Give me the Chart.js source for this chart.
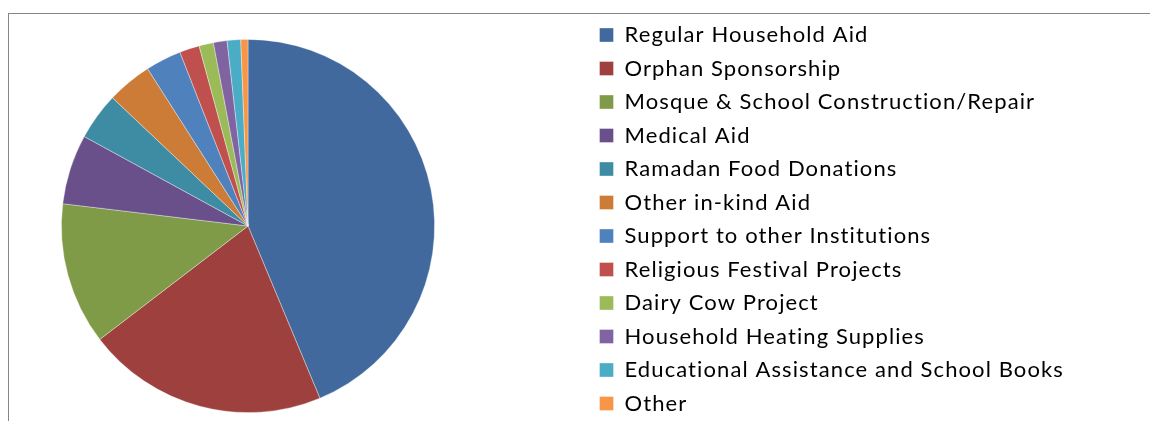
<!DOCTYPE html>
<html lang="en">
<head>
    <meta charset="UTF-8">
    <title>Distribuicao de ajuda</title>
    <script src="https://cdn.jsdelivr.net/npm/chart.js"></script>
    <style>
        body { margin: 0; background: #fff; }
        .wrap { position: relative; width: 1150px; height: 421px; overflow: hidden; }
        .wrap canvas { position: absolute; left: 0; top: 0; }
        .frame {
            position: absolute; left: 8px; top: 13px; width: 1300px; height: 600px;
            border-left: 1px solid #868686; border-top: 1px solid #868686;
            pointer-events: none;
        }
    </style>
</head>
<body>
    <div class="wrap">
        <canvas id="grafico" width="1150" height="421"></canvas>
        <div class="frame"></div>
    </div>

<script>
    // categorias e valores (%)
    var categorias = [
        'Regular Household Aid',
        'Orphan Sponsorship',
        'Mosque & School Construction/Repair',
        'Medical Aid',
        'Ramadan Food Donations',
        'Other in-kind Aid',
        'Support to other Institutions',
        'Religious Festival Projects',
        'Dairy Cow Project',
        'Household Heating Supplies',
        'Educational Assistance and School Books',
        'Other'
    ];
    var valores = [43.7, 20.9, 12.3, 6.05, 4.1, 3.9, 3.1, 1.72, 1.25, 1.18, 1.17, 0.62];
    var cores = [
        '#41699d', '#9e413e', '#809b48', '#69508a', '#3d8ca4', '#cd7c37',
        '#4f81bd', '#c0504d', '#9bbb59', '#8064a2', '#4bacc6', '#f79646'
    ];

    // coloca a legenda e a pizza no lugar certo depois do layout
    const posicionar = {
        id: 'posicionar',
        beforeUpdate(chart) {
            chart.ctx.letterSpacing = '1.1px'; // texto mais largo, como no original
        },
        beforeDraw(chart) {
            chart.ctx.letterSpacing = '1.1px';
        },
        afterLayout(chart) {
            const lg = chart.legend;
            const pad = lg.options.labels.padding;
            lg.left = 599.5 - pad;
            lg.right = chart.width;
            lg.width = lg.right - lg.left;
            lg.top = 24 - pad;
            lg.bottom = lg.top + lg.height;
            Object.assign(chart.chartArea, {
                left: 61, right: 435, top: 39, bottom: 413, width: 374, height: 374
            });
        }
    };

    const ctx = document.getElementById('grafico').getContext('2d');
    const grafico = new Chart(ctx, {
        type: 'pie',
        data: {
            labels: categorias,
            datasets: [{
                data: valores,
                backgroundColor: cores,
                borderColor: 'rgba(255,255,255,0.45)',
                borderWidth: 0.8,
                hoverOffset: 0
            }]
        },
        options: {
            responsive: false,
            animation: false,
            plugins: {
                legend: {
                    position: 'right',
                    align: 'start',
                    labels: {
                        boxWidth: 14,
                        boxHeight: 14,
                        padding: 11.5,
                        color: '#000',
                        font: { family: 'Lato', size: 22 }
                    }
                },
                tooltip: { enabled: false }
            }
        },
        plugins: [posicionar]
    });
</script>
</body>
</html>
